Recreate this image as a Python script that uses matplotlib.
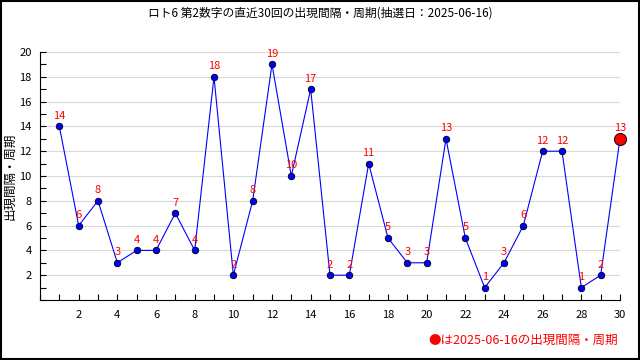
import matplotlib
matplotlib.use("Agg")
import matplotlib.pyplot as plt
from matplotlib.ticker import MultipleLocator

plt.rcParams['font.family'] = ['Noto Sans CJK JP', 'DejaVu Sans']

title = "ロト6 第2数字の直近30回の出現間隔・周期(抽選日：2025-06-16)"
ylabel = "出現間隔・周期"
note = "●は2025-06-16の出現間隔・周期"
draws = list(range(1, 31))
gaps = [14, 6, 8, 3, 4, 4, 7, 4, 18, 2, 8, 19, 10, 17, 2,
        2, 11, 5, 3, 3, 13, 5, 1, 3, 6, 12, 12, 1, 2, 13]

fig = plt.figure(figsize=(6.4, 3.6), dpi=100)
ax = fig.add_axes([0.0625, 0.1667, 0.90625, 0.6889])

ax.plot(draws, gaps, color="#0000ff", lw=0.8, zorder=3, clip_on=False)
ax.scatter(draws[:-1], gaps[:-1], s=22, color="#0000ff", edgecolor="black",
           linewidth=0.6, zorder=4, clip_on=False)
ax.scatter(draws[-1:], gaps[-1:], s=75, color="#ff0000", edgecolor="black",
           linewidth=0.7, zorder=5, clip_on=False)

for x, y in zip(draws, gaps):
    ax.annotate(str(y), (x, y), xytext=(0, 4), textcoords="offset points",
                ha="center", va="bottom", color="#ff0000", fontsize=8, zorder=6)

ax.set_xlim(0, 30)
ax.set_ylim(0, 20)
ax.xaxis.set_minor_locator(MultipleLocator(1))
ax.yaxis.set_minor_locator(MultipleLocator(1))
ax.set_yticks(range(2, 21, 2))
ax.set_xticks(range(2, 31, 2))
ax.tick_params(which="both", direction="in", labelsize=8, length=4, width=0.8)
ax.tick_params(axis="x", which="both", pad=7)
ax.tick_params(axis="y", which="both", pad=6)
ax.grid(axis="y", which="major", color="#d8d8d8", lw=0.8, zorder=0)
ax.spines["top"].set_visible(False)
ax.spines["right"].set_visible(False)
ax.set_ylabel(ylabel, fontsize=9)
ax.yaxis.set_label_coords(-0.04, 0.5)

fig.text(0.5, 0.965, title, ha="center", va="center", fontsize=8.5)
fig.text(0.965, 0.055, note, ha="right", va="center", color="#ff0000", fontsize=9)

# outer frame
fig.patches.append(plt.Rectangle((0.001, 0.002), 0.997, 0.996, transform=fig.transFigure,
                                 fill=False, edgecolor="black", lw=1.5))

fig.savefig("out.png", dpi=100)
